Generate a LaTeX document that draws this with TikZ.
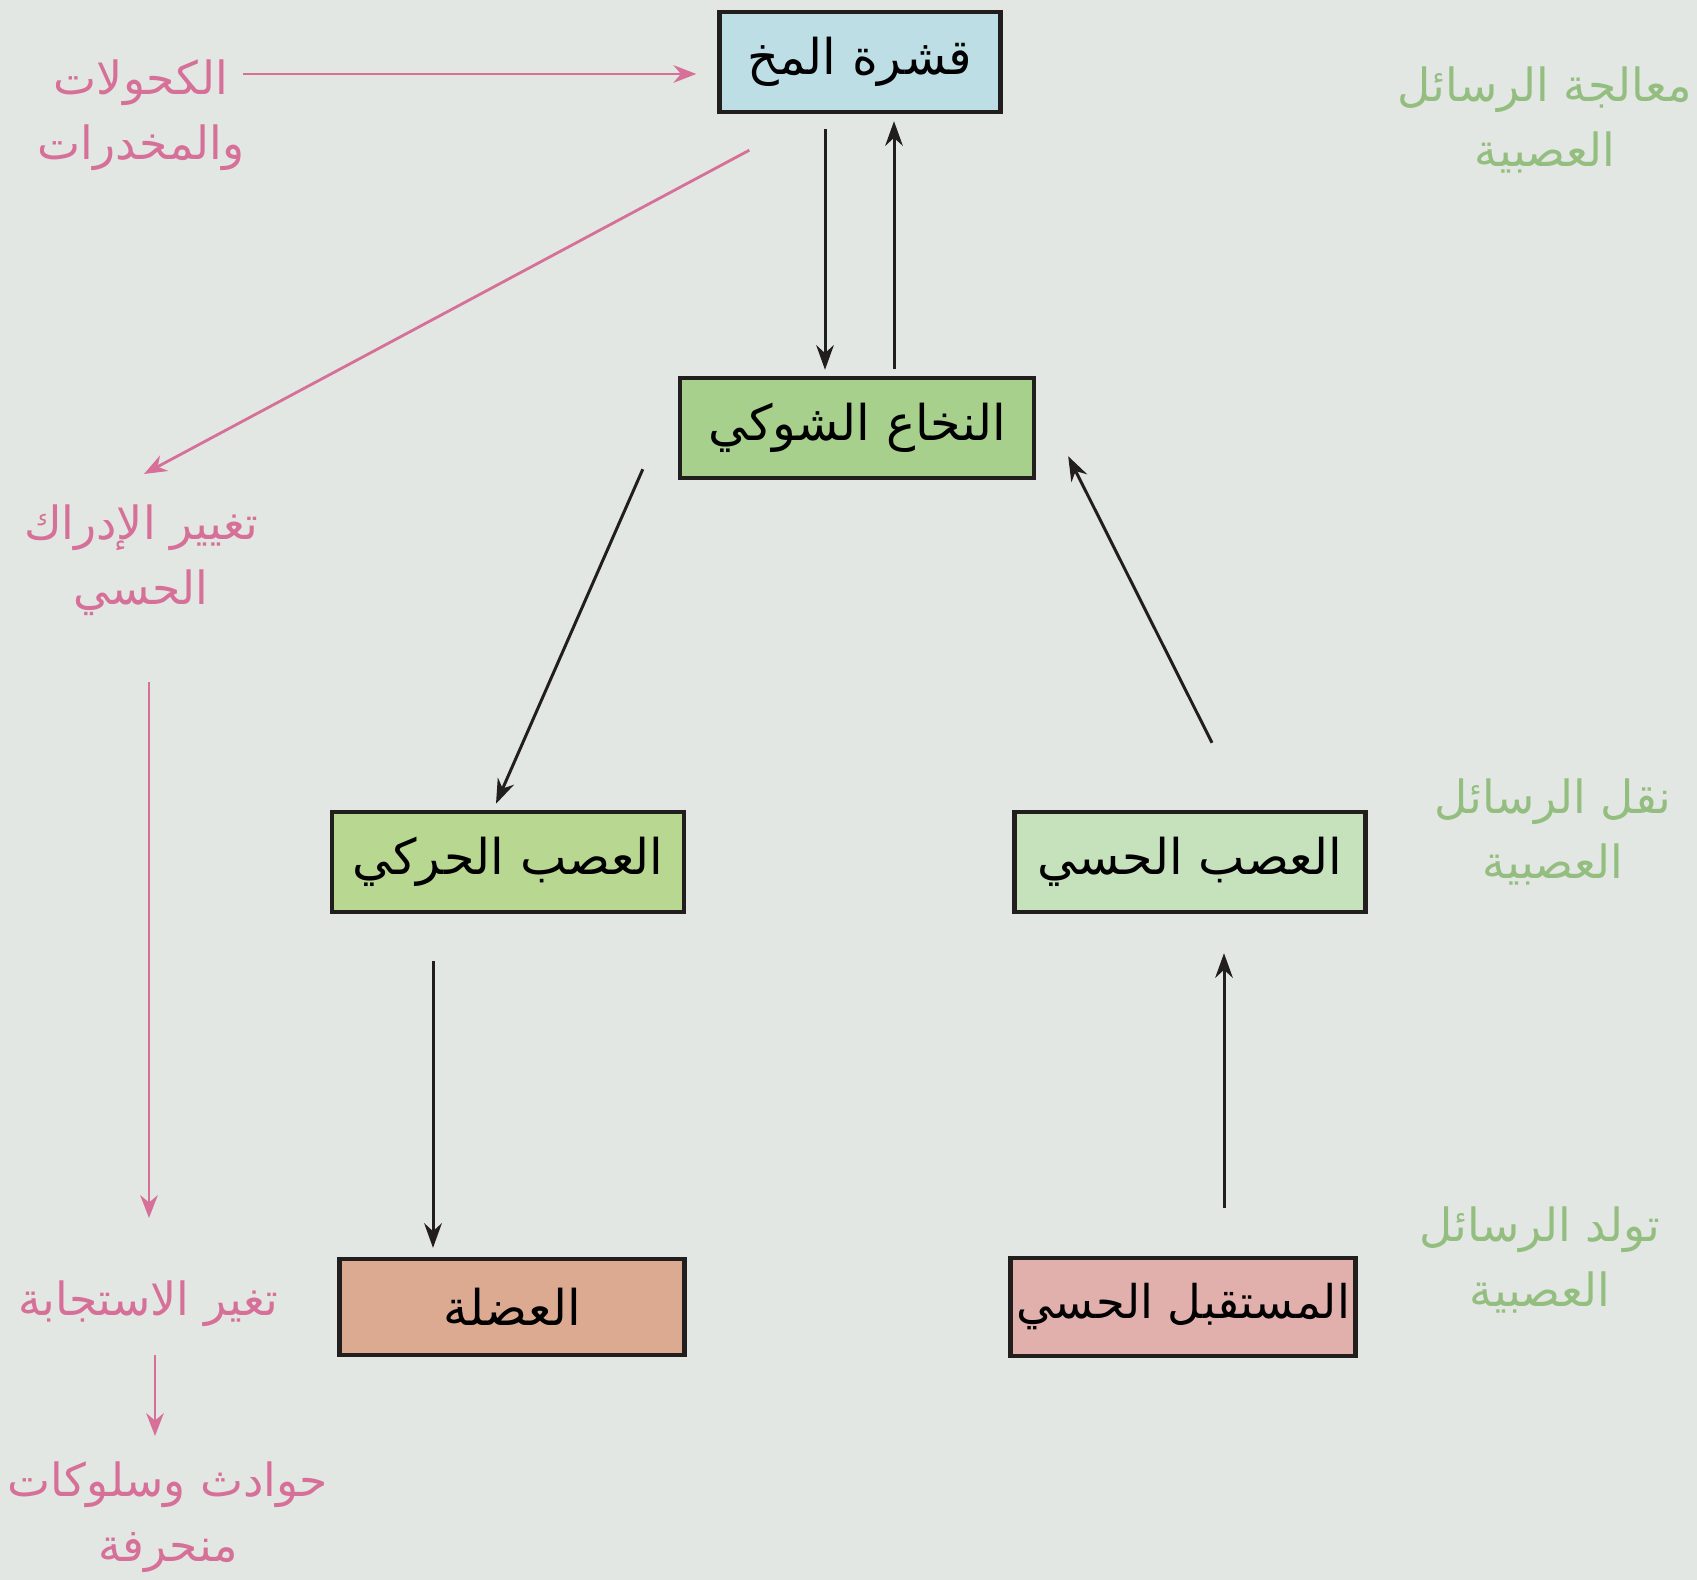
\documentclass[tikz,border=0pt]{standalone}
\usepackage{fontspec}
\usetikzlibrary{arrows.meta}
\newfontfamily\arabicfont[Script=Arabic]{DejaVu Sans}
\TeXXeTstate=1
\definecolor{bgc}{RGB}{226,231,227}
\definecolor{cortexc}{RGB}{190,222,230}
\definecolor{spinalc}{RGB}{166,208,140}
\definecolor{motorc}{RGB}{184,215,145}
\definecolor{sensc}{RGB}{198,226,188}
\definecolor{musclec}{RGB}{220,170,145}
\definecolor{recc}{RGB}{226,176,172}
\definecolor{pinkc}{RGB}{214,112,152}
\definecolor{greenc}{RGB}{148,190,128}
\definecolor{linec}{RGB}{35,30,30}
\tikzset{
  box/.style={draw=linec, line width=1.2pt, minimum height=28.5pt, inner sep=0pt,
    font=\arabicfont\fontsize{14}{17}\selectfont, text=black},
  arr/.style={draw=linec, line width=0.85pt, -{Stealth[length=7pt,width=5pt]}},
  parr/.style={draw=pinkc, line width=0.8pt, -{Stealth[length=6.5pt,width=5pt]}},
  plabel/.style={text=pinkc, align=center, font=\arabicfont\fontsize{13}{18.5}\selectfont},
  glabel/.style={text=greenc, align=center, font=\arabicfont\fontsize{13}{18.5}\selectfont},
}
\begin{document}
\begin{tikzpicture}[x=0.01cm,y=-0.01cm]
\fill[bgc] (0,0) rectangle (1697,1580);
\useasboundingbox (0,0) rectangle (1697,1580);

% boxes
\node[box, fill=cortexc, minimum width=281*0.2845pt] (cortex) at (860,62) {\beginR قشرة المخ\endR};
\node[box, fill=spinalc, minimum width=354*0.2845pt] (spinal) at (857,428) {\beginR النخاع الشوكي\endR};
\node[box, fill=motorc, minimum width=352*0.2845pt] (motor) at (508,862) {\beginR العصب الحركي\endR};
\node[box, fill=sensc, minimum width=351*0.2845pt] (sensory) at (1190,862) {\beginR العصب الحسي\endR};
\node[box, fill=musclec, minimum width=345*0.2845pt, minimum height=27.3pt] (muscle) at (512,1307) {\beginR العضلة\endR};
\node[box, fill=recc, minimum width=345*0.2845pt, minimum height=27.8pt, font=\arabicfont\fontsize{13.2}{17}\selectfont] (receptor) at (1183,1307) {\beginR المستقبل الحسي\endR};

% side labels
\node[plabel] (alc) at (141,115) {\beginR الكحولات\endR\\\beginR والمخدرات\endR};
\node[plabel] (perc) at (141,560) {\beginR تغيير الإدراك\endR\\\beginR الحسي\endR};
\node[plabel] (resp) at (148,1304) {\beginR تغير الاستجابة\endR};
\node[plabel] (dev) at (168,1517) {\beginR حوادث وسلوكات\endR\\\beginR منحرفة\endR};
\node[glabel] (g1) at (1545,120) {\beginR معالجة الرسائل\endR\\\beginR العصبية\endR};
\node[glabel] (g2) at (1553,832) {\beginR نقل الرسائل\endR\\\beginR العصبية\endR};
\node[glabel] (g3) at (1540,1260) {\beginR تولد الرسائل\endR\\\beginR العصبية\endR};

% black connectors
\draw[arr] ([shift={(-35,15)}]cortex.south) -- ([shift={(-32,-6)}]spinal.north);
\draw[arr] ([shift={(37,-7)}]spinal.north) -- ([shift={(34,7)}]cortex.south);
\draw[arr] ([shift={(-35,-11)}]spinal.south west) -- ([shift={(-12,-6)}]motor.north);
\draw[arr] ([shift={(22,-67)}]sensory.north) -- ([shift={(32,-24)}]spinal.south east);
\draw[arr] ([shift={(-75,47)}]motor.south) -- ([shift={(-79,-9)}]muscle.north);
\draw[arr] ([shift={(41,-48)}]receptor.north) -- ([shift={(34,39)}]sensory.south);

% pink connectors
\coordinate (alcS) at (243,74);
\coordinate (percN) at (144,474);
\coordinate (percS) at (149,682);
\coordinate (respN) at (149,1218);
\coordinate (respS) at (155,1355);
\coordinate (devN) at (155,1436);
\draw[parr] (alcS) -- ([shift={(-21,12)}]cortex.west);
\draw[parr] ([shift={(32,36)}]cortex.south west) -- (percN);
\draw[parr] (percS) -- (respN);
\draw[parr] (respS) -- (devN);
\end{tikzpicture}
\end{document}
